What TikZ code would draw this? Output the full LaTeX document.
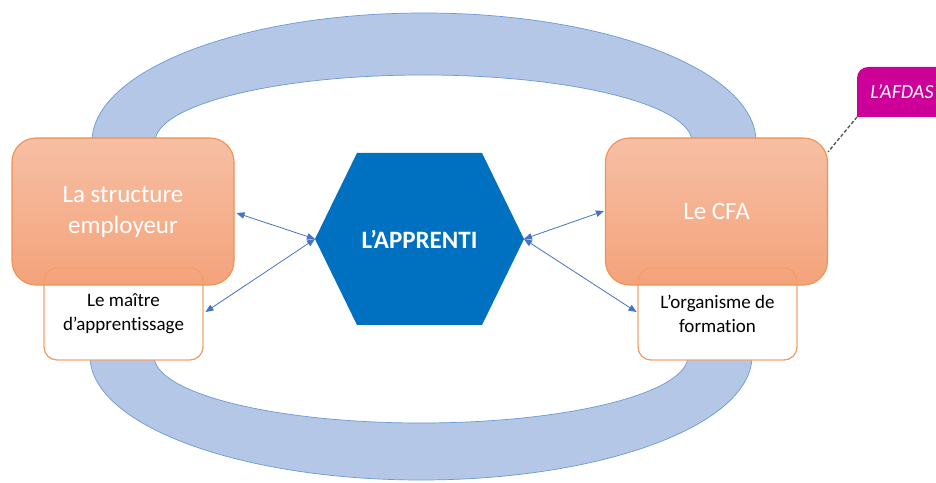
\documentclass[tikz,border=0pt]{standalone}
\usepackage{fontspec}
\setmainfont[Ligatures=NoCommon]{Carlito}
\usetikzlibrary{arrows.meta,calc}
\definecolor{arcfill}{HTML}{B4C7E7}
\definecolor{arcline}{HTML}{6A9AD6}
\definecolor{orangetop}{HTML}{F6BFA4}
\definecolor{orangebot}{HTML}{F4A37B}
\definecolor{orangeline}{HTML}{F0914F}
\definecolor{smallline}{HTML}{F29A62}
\definecolor{hexblue}{HTML}{0070C0}
\definecolor{arrowblue}{HTML}{4472C4}
\definecolor{afdascol}{HTML}{CC0099}
\definecolor{dashgray}{HTML}{505050}
\begin{document}
\begin{tikzpicture}[x=1pt,y=1pt,
  arcband/.style={fill=arcfill, draw=arcline, line width=0.7pt},
  bigbox/.style={rounded corners=24pt, draw=orangeline, line width=1.1pt,
    top color=orangetop, bottom color=orangebot,
    minimum width=222pt, minimum height=147pt, inner sep=0pt,
    text=white, align=center, font=\fontsize{25}{31}\selectfont},
  smallfill/.style={rounded corners=13pt, fill=white, draw=smallline, line width=0.9pt,
    minimum width=159pt, minimum height=92pt, inner sep=0pt},
  smallbox/.style={rounded corners=13pt, draw=smallline, line width=0.9pt,
    minimum width=159pt, minimum height=92pt, inner sep=0pt,
    text=black, align=center, font=\fontsize{19}{24}\selectfont},
  conn/.style={draw=arrowblue, line width=0.8pt, <->, >={Triangle[length=8pt,width=6.5pt]}},
  callline/.style={draw=dashgray, line width=1.3pt, dash pattern=on 3.5pt off 2pt}
]
\useasboundingbox (0,0) rectangle (936,482);
\fill[white] (0,0) rectangle (936,482);

% top and bottom bands
\path[arcband] (92,340) arc[start angle=180,end angle=0,x radius=332,y radius=129]
   -- (692,340) arc[start angle=0,end angle=180,x radius=268.5,y radius=67] -- cycle;
\path[arcband] (90,126) arc[start angle=180,end angle=360,x radius=331,y radius=124]
   -- (688,126) arc[start angle=0,end angle=-180,x radius=267,y radius=67] -- cycle;

% small boxes (white fill, behind the big boxes)
\node[smallfill] (lsfill) at (123.5,168) {};
\node[smallfill] (rsfill) at (717.5,168) {};

% big boxes
\node[bigbox] (lb) at (123,270.5) {La structure\\employeur};
\node[bigbox] (rb) at (716.5,270.5) {Le CFA};

% small box outlines and text on top
\node[smallbox] (ls) at (123.5,168) {Le maître\\d’apprentissage};
\node[smallbox] (rs) at (717.5,168) {L’organisme de\\formation};

% hexagon
\coordinate (hL) at (315,243);
\coordinate (hR) at (524,243);
\fill[hexblue] (357,329) -- (482,329) -- (hR) -- (482,157) -- (357,157) -- (hL) -- cycle;
\node[text=white, font=\fontsize{25}{29}\bfseries\selectfont] (app) at (419.5,243) {L’APPRENTI};

% connectors
\draw[conn] (hL) -- ($(lb.east)+(2,-1.5)$);
\draw[conn] (hL) -- ($(ls.east)+(2,2)$);
\draw[conn] (hR) -- ($(rb.west)+(-1,0.5)$);
\draw[conn] (hR) -- ($(rs.west)+(-1,2)$);

% AFDAS callout
\fill[afdascol] (857,365) -- (857,404) arc[start angle=180,end angle=90,radius=11] -- (950,415) -- (950,365) -- cycle;
\node[text=white, font=\fontsize{20}{24}\itshape\selectfont] (afdas) at (902,390) {L’AFDAS};
\coordinate (afdasTip) at (857,365);
\coordinate (cfaCorner) at (828,330);
\draw[callline] (afdasTip) -- (cfaCorner);
\end{tikzpicture}
\end{document}
